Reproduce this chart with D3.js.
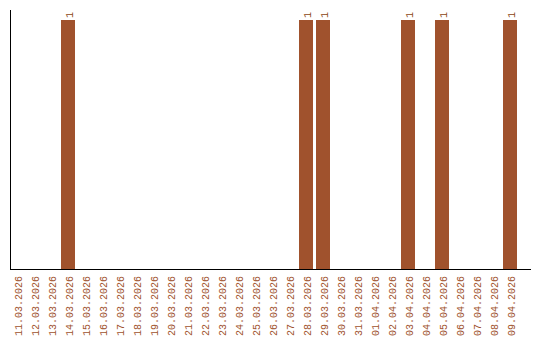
<!DOCTYPE html>
<html><head><meta charset="utf-8">
<script src="https://cdn.jsdelivr.net/npm/d3@7"></script>
<style>body{margin:0;background:#fff}svg{display:block}</style>
</head><body>
<svg id="c" width="540" height="340"></svg>
<script>
const categories = ["11.03.2026","12.03.2026","13.03.2026","14.03.2026","15.03.2026","16.03.2026","17.03.2026","18.03.2026","19.03.2026","20.03.2026","21.03.2026","22.03.2026","23.03.2026","24.03.2026","25.03.2026","26.03.2026","27.03.2026","28.03.2026","29.03.2026","30.03.2026","31.03.2026","01.04.2026","02.04.2026","03.04.2026","04.04.2026","05.04.2026","06.04.2026","07.04.2026","08.04.2026","09.04.2026"];
const values = [0,0,0,1,0,0,0,0,0,0,0,0,0,0,0,0,0,1,1,0,0,0,0,1,0,1,0,0,0,1];

const svg = d3.select("#c");
const x = d3.scaleBand().domain(categories).range([10, 517]).paddingInner(3/17).paddingOuter(0);
const y = d3.scaleLinear().domain([0, 1]).range([270, 20]);
const font = "Liberation Mono";
const col = "#a0522d";

const data = categories.map((c, i) => ({c, v: values[i]}));

svg.selectAll("rect.bar").data(data.filter(d => d.v > 0)).enter().append("rect")
  .attr("x", d => x(d.c)).attr("width", x.bandwidth())
  .attr("y", d => y(d.v)).attr("height", d => y(0) - y(d.v))
  .attr("fill", col);

svg.selectAll("text.val").data(data.filter(d => d.v > 0)).enter().append("text")
  .attr("transform", d => `translate(${x(d.c) + x.bandwidth()/2 + 4.5},${y(d.v) - 2}) rotate(-90)`)
  .attr("font-family", font).attr("font-size", 10).attr("fill", "#8b4513")
  .attr("text-anchor", "start").text(d => d.v);

// axes lines
svg.append("line").attr("x1", 10.5).attr("x2", 10.5).attr("y1", 10).attr("y2", 270).attr("stroke", "#000");
svg.append("line").attr("x1", 10).attr("x2", 531).attr("y1", 269.5).attr("y2", 269.5).attr("stroke", "#000");

svg.selectAll("text.tick").data(categories).enter().append("text")
  .attr("transform", d => `translate(${x(d) + x.bandwidth()/2 + 5},276) rotate(-90)`)
  .attr("font-family", font).attr("font-size", 10).attr("fill", col)
  .attr("text-anchor", "end").text(d => d);
</script>
</body></html>
